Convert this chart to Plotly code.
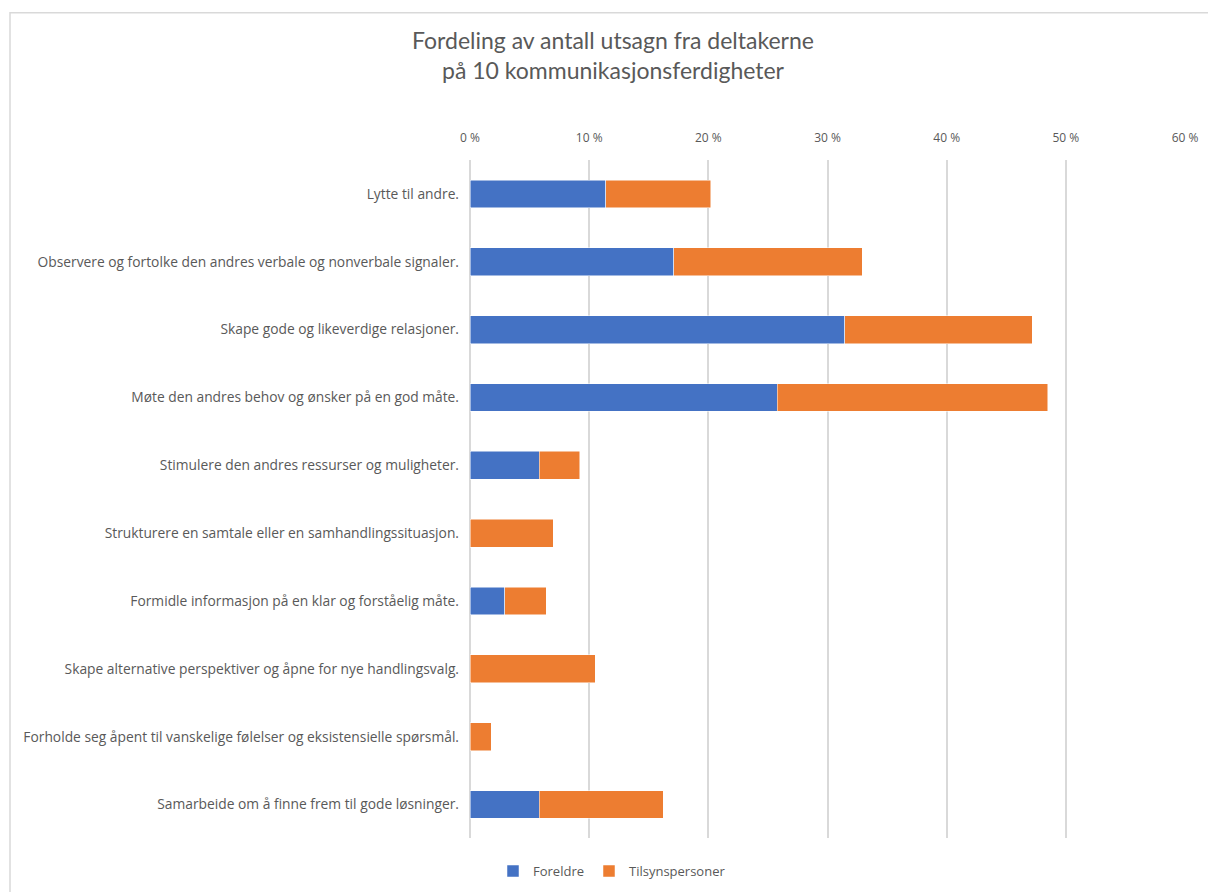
import plotly.graph_objects as go

categories = [
    "Lytte til andre.",
    "Observere og fortolke den andres verbale og nonverbale signaler.",
    "Skape gode og likeverdige relasjoner.",
    "Møte den andres behov og ønsker på en god måte.",
    "Stimulere den andres ressurser og muligheter.",
    "Strukturere en samtale eller en samhandlingssituasjon.",
    "Formidle informasjon på en klar og forståelig måte.",
    "Skape alternative perspektiver og åpne for nye handlingsvalg.",
    "Forholde seg åpent til vanskelige følelser og eksistensielle spørsmål.",
    "Samarbeide om å finne frem til gode løsninger.",
]
foreldre = [11.4, 17.1, 31.45, 25.8, 5.8, 0.0, 2.9, 0.0, 0.0, 5.8]
tilsynspersoner = [8.8, 15.8, 15.75, 22.7, 3.4, 7.0, 3.5, 10.5, 1.8, 10.4]
tick_vals = [0, 10, 20, 30, 40, 50, 60]
tick_labels = ["0 %", "10 %", "20 %", "30 %", "40 %", "50 %", "60 %"]

TEXT = "#595959"
GRID = "#d9d9d9"
FONT = "Open Sans, Liberation Sans, sans-serif"
TFONT = "Lato, Liberation Sans, sans-serif"

fig = go.Figure()
fig.add_trace(go.Bar(y=categories, x=foreldre, name="Foreldre", orientation="h",
                     marker=dict(color="#4472C4", line=dict(color="white", width=0.5))))
fig.add_trace(go.Bar(y=categories, x=tilsynspersoner, name="Tilsynspersoner", orientation="h",
                     marker=dict(color="#ED7D31", line=dict(color="white", width=0.5))))

W, H = 1208, 892
L, R, T, B = 470, 23, 160, 6
pw, ph = W - L - R, H - T - B
plot_bottom = 846


def px_y(y):
    return (H - B - y) / ph


def px_x(x):
    return (x - L) / pw


fig.update_layout(
    width=W, height=H,
    barmode="stack", bargap=0.59,
    plot_bgcolor="white", paper_bgcolor="white",
    margin=dict(l=L, r=R, t=T, b=B),
    font=dict(family=FONT, color=TEXT, size=12),
    title=dict(text="Fordeling av antall utsagn fra deltakerne<br>på 10 kommunikasjonsferdigheter",
               x=px_x(613), xref="paper", xanchor="center",
               y=1 - 49 / H, yanchor="middle",
               font=dict(size=23, color=TEXT, family=TFONT)),
    legend=dict(orientation="h", x=px_x(612), xanchor="center", y=px_y(879),
                yanchor="middle", font=dict(size=13, color=TEXT), traceorder="normal",
                itemwidth=30),
    xaxis=dict(side="top", range=[0, 60], tickvals=tick_vals, ticktext=tick_labels,
               showgrid=True, gridcolor=GRID, gridwidth=1.5, zeroline=True, zerolinecolor=GRID,
               zerolinewidth=1.5, showline=False, tickfont=dict(size=12, color=TEXT),
               ticklabelstandoff=15, automargin=False, fixedrange=True),
    yaxis=dict(autorange="reversed", showgrid=False, showline=False, ticks="",
               domain=[px_y(plot_bottom), 1], automargin=False,
               tickfont=dict(size=13.8, color=TEXT), ticklabelstandoff=10),
    shapes=[dict(type="rect", xref="paper", yref="paper",
                 x0=px_x(10), x1=px_x(W + 20),
                 y0=px_y(H + 20), y1=px_y(11),
                 line=dict(color=GRID, width=1.5), fillcolor="rgba(0,0,0,0)", layer="below")],
)
fig.write_html("out.html", config={"displayModeBar": False},
               post_script="document.body.style.margin='0';document.body.style.overflow='hidden';")
